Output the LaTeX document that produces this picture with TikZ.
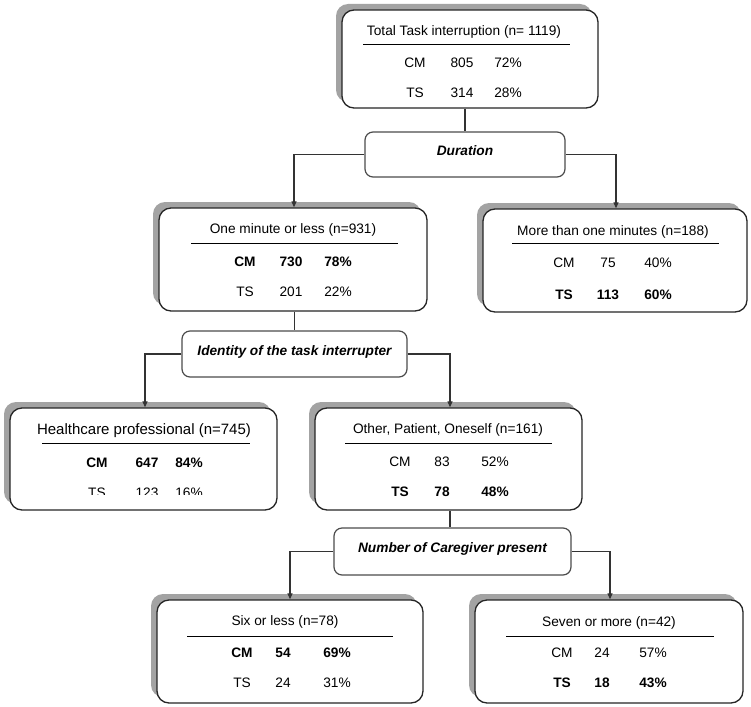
\documentclass[tikz,border=0pt]{standalone}
\usepackage{fontspec}
\setmainfont{Liberation Sans}
\usetikzlibrary{arrows.meta,shadows}
\begin{document}
\begin{tikzpicture}[x=1pt,y=-1pt,
  resbox/.style={draw=black!85, line width=1.3pt, rounded corners=12pt, fill=white, inner sep=0pt,
    drop shadow={shadow xshift=-6pt, shadow yshift=6pt, fill=black!36, opacity=1}},
  decbox/.style={draw=black!70, line width=1.2pt, rounded corners=8pt, fill=white, inner sep=0pt,
    font=\fontsize{13.7}{16}\selectfont\bfseries\itshape, text height=10pt, text depth=8pt},
  txt/.style={inner sep=0pt, font=\fontsize{13.7}{16}\selectfont},
  btxt/.style={inner sep=0pt, font=\fontsize{13.7}{16}\selectfont\bfseries},
  bigtxt/.style={inner sep=0pt, font=\fontsize{15}{18}\selectfont},
  uline/.style={draw=black, line width=1pt},
  conn/.style={draw=black!80, line width=1.2pt},
  arr/.style={conn, -{Triangle[length=6pt,width=5pt]}}
]
\useasboundingbox (0,0) rectangle (751,706);

% result boxes
\node[resbox, minimum width=256pt, minimum height=98pt] (total) at (470,59) {};
\node[resbox, minimum width=268pt, minimum height=103pt] (one) at (293,259.5) {};
\node[resbox, minimum width=264pt, minimum height=103pt] (more) at (615,260.5) {};
\node[resbox, minimum width=267pt, minimum height=102pt] (hc) at (143.5,459) {};
\node[resbox, minimum width=267pt, minimum height=102pt] (other) at (448.5,459) {};
\node[resbox, minimum width=266pt, minimum height=103pt] (six) at (290,651.5) {};
\node[resbox, minimum width=268pt, minimum height=103pt] (seven) at (609,651.5) {};

% decision boxes
\node[decbox, minimum width=200pt, minimum height=45pt] (dur) at (465,154.5) {Duration};
\node[decbox, minimum width=225pt, minimum height=46pt] (idt) at (294.5,354) {Identity of the task interrupter};
\node[decbox, minimum width=237pt, minimum height=47pt] (num) at (452.5,551.5) {Number of Caregiver present};

% connectors
\draw[conn] (total.south -| dur.north) -- (dur.north);
\draw[arr] (dur.west) -| (one.north -| 294,0);
\draw[arr] (dur.east) -| (more.north -| 616,0);
\draw[conn] (one.south -| idt.north) -- (idt.north);
\draw[arr] (idt.west) -| (hc.north -| 145,0);
\draw[arr] (idt.east) -| (other.north -| 450,0);
\draw[conn] (other.south -| 450,0) -- (num.north -| 450,0);
\draw[arr] (num.west) -| (six.north);
\draw[arr] (num.east) -| (seven.north -| 610,0);

% Total
\node[txt] (t0) at (464,32) {Total Task interruption (n= 1119)};
\draw[uline] (363,45) -- (570,45);
\node[txt] (t1) at (415,63) {CM}; \node[txt] (t2) at (462,63) {805}; \node[txt] (t3) at (508,63) {72\%};
\node[txt] (t4) at (415,93) {TS}; \node[txt] (t5) at (462,93) {314}; \node[txt] (t6) at (508,93) {28\%};

% One minute or less
\node[txt] (o0) at (293,230) {One minute or less (n=931)};
\draw[uline] (191,243) -- (398,243);
\node[btxt] (o1) at (245,262) {CM}; \node[btxt] (o2) at (291,262) {730}; \node[btxt] (o3) at (338,262) {78\%};
\node[txt] (o4) at (245,292) {TS}; \node[txt] (o5) at (291,292) {201}; \node[txt] (o6) at (338,292) {22\%};

% More than one minutes
\node[txt] (m0) at (613,232) {More than one minutes (n=188)};
\draw[uline] (512,243) -- (719,243);
\node[txt] (m1) at (564,263) {CM}; \node[txt] (m2) at (608,263) {75}; \node[txt] (m3) at (658,263) {40\%};
\node[btxt] (m4) at (564,295) {TS}; \node[btxt] (m5) at (608,295) {113}; \node[btxt] (m6) at (658,295) {60\%};

% Healthcare professional
\node[bigtxt] (h0) at (144,431) {Healthcare professional (n=745)};
\draw[uline] (42,443) -- (250,443);
\node[btxt] (h1) at (97,463) {CM}; \node[btxt] (h2) at (147,463) {647}; \node[btxt] (h3) at (189,463) {84\%};
\begin{scope}
\clip (40,480) rectangle (240,494.5);
\node[txt] (h4) at (97,493) {TS}; \node[txt] (h5) at (147,493) {123}; \node[txt] (h6) at (189,493) {16\%};
\end{scope}

% Other, Patient, Oneself
\node[txt] (p0) at (448,430) {Other, Patient, Oneself (n=161)};
\draw[uline] (345,443) -- (552,443);
\node[txt] (p1) at (400,462) {CM}; \node[txt] (p2) at (442,462) {83}; \node[txt] (p3) at (495,462) {52\%};
\node[btxt] (p4) at (400,492) {TS}; \node[btxt] (p5) at (442,492) {78}; \node[btxt] (p6) at (495,492) {48\%};

% Six or less
\node[txt] (s0) at (285,622) {Six or less (n=78)};
\draw[uline] (187,636) -- (393,636);
\node[btxt] (s1) at (242,653) {CM}; \node[btxt] (s2) at (283,653) {54}; \node[btxt] (s3) at (337,653) {69\%};
\node[txt] (s4) at (242,683) {TS}; \node[txt] (s5) at (283,683) {24}; \node[txt] (s6) at (337,683) {31\%};

% Seven or more
\node[txt] (v0) at (609,623) {Seven or more (n=42)};
\draw[uline] (506,636) -- (714,636);
\node[txt] (v1) at (562,653) {CM}; \node[txt] (v2) at (602,653) {24}; \node[txt] (v3) at (653,653) {57\%};
\node[btxt] (v4) at (562,683) {TS}; \node[btxt] (v5) at (602,683) {18}; \node[btxt] (v6) at (653,683) {43\%};
\end{tikzpicture}
\end{document}
